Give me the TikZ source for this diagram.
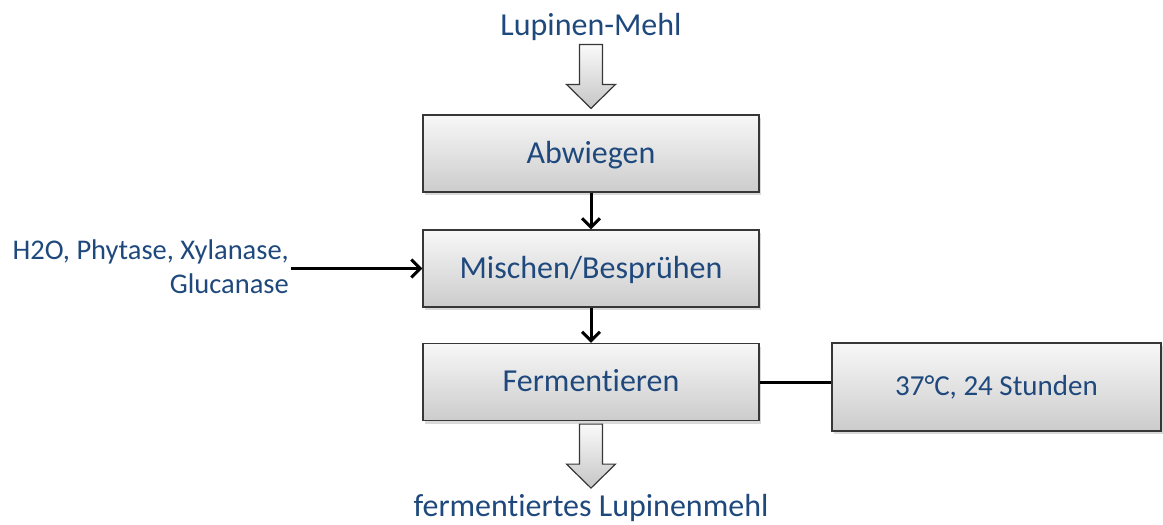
\documentclass[tikz,border=0pt]{standalone}
\usepackage{fontspec}
\setmainfont{Carlito}[Ligatures={NoCommon}]
\usetikzlibrary{arrows.meta,shadows,calc}
\definecolor{txt}{RGB}{31,73,125}
\definecolor{edge}{RGB}{55,55,55}
\newcommand\blockdown[1]{%
  \draw[blockarrow] ([shift={(#1)}]-11.5,-64) -- ([shift={(#1)}]11.5,-64) -- ([shift={(#1)}]11.5,-24) -- ([shift={(#1)}]24.5,-24) -- (#1) -- ([shift={(#1)}]-24.5,-24) -- ([shift={(#1)}]-11.5,-24) -- cycle;}
\begin{document}
\begin{tikzpicture}[x=1pt,y=-1pt,
  box/.style={draw=edge, line width=1.2pt, top color=gray!6, bottom color=gray!40,
    minimum width=336pt, minimum height=77pt, inner sep=0pt, text=txt,
    font=\fontsize{32}{38}\selectfont, text height=22pt, text depth=3pt,
    drop shadow={shadow xshift=2pt, shadow yshift=-3pt, opacity=0.3}},
  lbl/.style={text=txt, font=\fontsize{32}{38}\selectfont, inner sep=2pt},
  arr/.style={line width=3pt, -{Straight Barb[length=9pt,width=18pt]}},
  blockarrow/.style={draw=edge, line width=1.2pt, top color=gray!4, bottom color=gray!45, line join=miter}]
\useasboundingbox (0,0) rectangle (1163,525);
\node[box] (abw) at (591,153.5) {Abwiegen};
\node[box] (mix) at (591,268.5) {Mischen/Besprühen};
\node[box] (ferm) at (591,382) {Fermentieren};
\node[box, minimum width=329pt, minimum height=88pt, font=\fontsize{29}{34}\selectfont, text height=20pt, text depth=3pt] (cond) at (996.5,387) {37°C, 24 Stunden};
\node[lbl, anchor=base] (lm) at (591,35) {Lupinen-Mehl};
\node[lbl, anchor=base] (fl) at (591,516) {fermentiertes Lupinenmehl};
\node[lbl, font=\fontsize{28.5}{34}\selectfont, align=right, anchor=east] (h2o) at (291,267) {H2O, Phytase, Xylanase,\\Glucanase};
\coordinate (tipA) at ($(abw.north)+(0,-6)$);
\coordinate (tipB) at ($(ferm.south)+(0,67)$);
\blockdown{tipA}
\blockdown{tipB}
\draw[arr] (abw) -- (mix);
\draw[arr] (mix) -- (ferm);
\draw[arr] (h2o.east |- mix.west) -- (mix.west);
\draw[line width=3pt] (ferm.east) -- (ferm.east -| cond.west);
\end{tikzpicture}
\end{document}
